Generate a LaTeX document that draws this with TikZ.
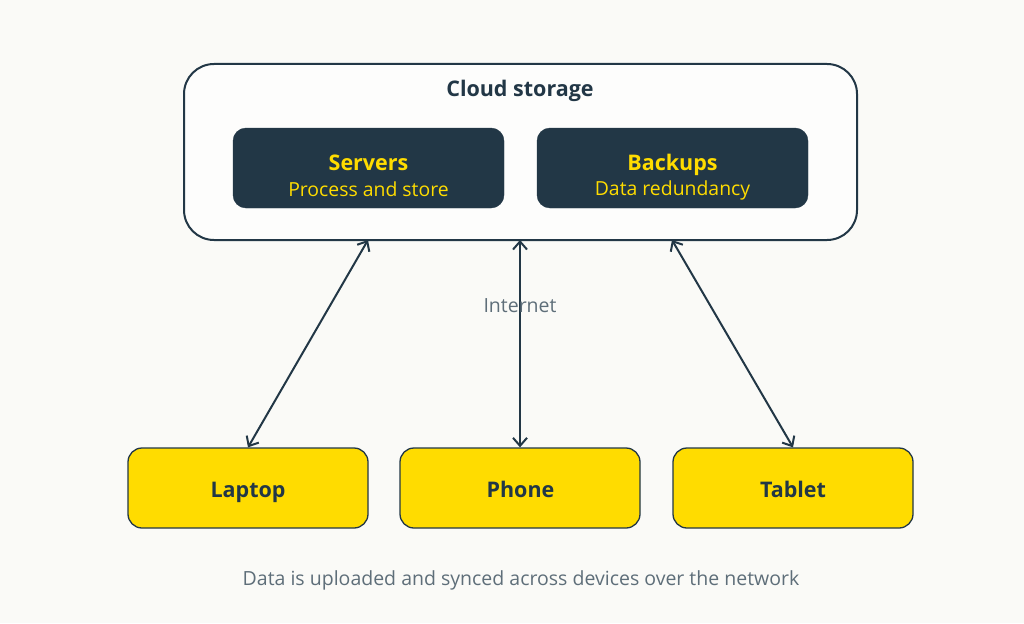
\documentclass[tikz,border=0pt]{standalone}
\usepackage{fontspec}
\setmainfont{Open Sans}
\usetikzlibrary{arrows.meta}
\definecolor{navy}{HTML}{223746}
\definecolor{sun}{HTML}{FFDC00}
\definecolor{bg}{HTML}{FAFAF7}
\definecolor{greytxt}{HTML}{5E6E79}
\begin{document}
\begin{tikzpicture}[x=1pt,y=-1pt,
  cloudbox/.style={draw=navy,line width=2pt,rounded corners=30pt,fill=white!60!bg},
  innerbox/.style={fill=navy,draw=navy,rounded corners=13pt,minimum width=271pt,minimum height=80pt,inner sep=0pt},
  headtxt/.style={text=sun,font=\fontsize{21.5}{24}\selectfont\bfseries,inner sep=0pt,anchor=base},
  subtxt/.style={text=sun,font=\fontsize{19.4}{22}\selectfont,inner sep=0pt,anchor=base},
  devbox/.style={fill=sun,draw=navy,line width=1.3pt,rounded corners=14pt,minimum width=240pt,minimum height=80pt,inner sep=0pt},
  devtxt/.style={text=navy,font=\fontsize{21.5}{24}\selectfont\bfseries,inner sep=0pt,anchor=base},
  greylabel/.style={font=\fontsize{19.5}{22}\selectfont,text=greytxt,inner sep=0pt,anchor=base},
  link/.style={draw=navy,line width=2pt,{Straight Barb[length=8pt,width=14pt,line width=2pt]}-{Straight Barb[length=8pt,width=14pt,line width=2pt]}}
]
\fill[bg] (0,0) rectangle (1024,623);
\useasboundingbox (0,0) rectangle (1024,623);
\draw[cloudbox] (184,64) rectangle (857,240);
\coordinate (cloudL) at (368,240);
\coordinate (cloudM) at (520,240);
\coordinate (cloudR) at (672,240);
\node[font=\fontsize{21.5}{24}\selectfont\bfseries,text=navy,inner sep=0pt,anchor=base] (title) at (520,96.5) {Cloud storage};
\node[innerbox] (servers) at (368.5,168) {};
\node[headtxt] (serversh) at (368.5,170) {Servers};
\node[subtxt] (serverss) at (368.5,196) {Process and store};
\node[innerbox] (backups) at (672.5,168) {};
\node[headtxt] (backupsh) at (672.5,170) {Backups};
\node[subtxt] (backupss) at (672.5,195.5) {Data redundancy};
\node[devbox] (laptop) at (248,488) {};
\node[devbox] (phone) at (520,488) {};
\node[devbox] (tablet) at (793,488) {};
\node[devtxt] (laptopt) at (248,497.5) {Laptop};
\node[devtxt] (phonet) at (520.5,497.5) {Phone};
\node[devtxt] (tablett) at (793,497.5) {Tablet};
\draw[link] (cloudL) -- (laptop.north);
\draw[link] (cloudM) -- (phone.north);
\draw[link] (cloudR) -- (tablet.north);
\node[greylabel] (internet) at (520,312) {Internet};
\node[greylabel] (caption) at (521,585) {Data is uploaded and synced across devices over the network};
\end{tikzpicture}
\end{document}
